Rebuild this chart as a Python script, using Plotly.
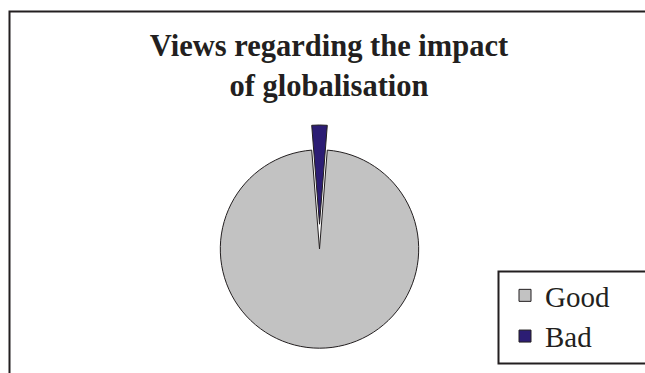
import plotly.graph_objects as go

labels = ["Good", "Bad"]
values = [97.5, 2.5]
colors = ["#C2C2C2", "#2C1D74"]
pulls = [0, 0.25]

W, H = 645, 373
fig = go.Figure()
fig.add_trace(go.Pie(
    labels=labels, values=values, sort=False, direction="clockwise",
    rotation=360 * values[1] / 100 / 2,
    pull=pulls, textinfo="none", hoverinfo="label+percent",
    marker=dict(colors=colors, line=dict(color="#231F20", width=1)),
    domain=dict(x=[(319.5 - 124) / W, (319.5 + 124) / W], y=[0, 248 / H]),
))

shapes = [
    dict(type="rect", xref="paper", yref="paper",
         x0=9.5 / W, x1=1.05, y0=-0.05, y1=1 - 11.5 / H,
         line=dict(color="#231F20", width=2), fillcolor="rgba(0,0,0,0)", layer="above"),
    dict(type="rect", xref="paper", yref="paper",
         x0=498.5 / W, x1=1.05, y0=1 - 363.5 / H, y1=1 - 271.5 / H,
         line=dict(color="#231F20", width=2), fillcolor="rgba(0,0,0,0)", layer="above"),
]

fig.update_layout(
    width=W, height=H,
    margin=dict(l=0, r=0, t=0, b=0, autoexpand=False),
    paper_bgcolor="white", plot_bgcolor="white",
    title=dict(text="<b>Views regarding the impact<br>of globalisation</b>",
               x=329 / W, xanchor="center", y=1 - 56 / H, yanchor="top",
               font=dict(family="Liberation Serif", size=30.5, color="#231F20")),
    legend=dict(x=505 / W, xanchor="left", y=1 - 270 / H, yanchor="top",
                font=dict(family="Liberation Serif", size=29, color="#231F20"),
                bgcolor="rgba(0,0,0,0)", borderwidth=0, tracegroupgap=0),
    shapes=shapes,
)
fig.write_html("out.html")
